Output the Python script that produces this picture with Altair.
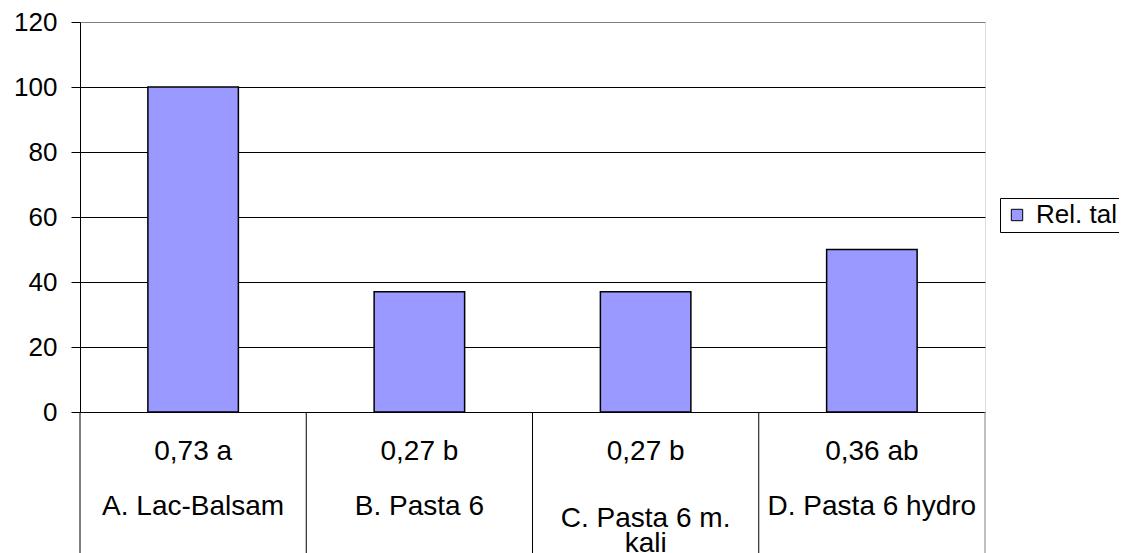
import altair as alt
import pandas as pd

categories = ["A. Lac-Balsam", "B. Pasta 6", "C. Pasta 6 m.\nkali", "D. Pasta 6 hydro"]
stat_labels = ["0,73 a", "0,27 b", "0,27 b", "0,36 ab"]
rel_tal = [100, 37, 37, 50]
series_name = "Rel. tal"
y_ticks = [0, 20, 40, 60, 80, 100, 120]

n = len(categories)
df = pd.DataFrame({
    "cat": categories,
    "stat": stat_labels,
    "value": rel_tal,
    "i": list(range(n)),
    "series": [series_name] * n,
})
sep = pd.DataFrame({"b": list(range(n + 1))})

FONT = "Liberation Sans"
FS = 26
CFS = 28
W, H = 905, 390
PAD = {"left": 72, "top": 14, "right": 134, "bottom": 141}
xscale = alt.Scale(domain=[0, n], nice=False, zero=False, padding=0)

bars = alt.Chart(df).transform_calculate(
    x0="datum.i + 0.3", x1="datum.i + 0.7"
).mark_bar(stroke="black", strokeWidth=1.5, orient="vertical").encode(
    x=alt.X("x0:Q", scale=xscale, axis=None),
    x2="x1:Q",
    y=alt.Y(
        "value:Q",
        scale=alt.Scale(domain=[0, 120], nice=False, padding=0),
        axis=alt.Axis(
            values=y_ticks,
            title=None,
            labelFont=FONT,
            labelFontSize=FS,
            labelColor="black",
            labelPadding=14,
            tickColor="black",
            tickSize=9,
            domainColor="black",
            grid=True,
            gridColor={"condition": {"test": "datum.value >= 120", "value": "#808080"}, "value": "black"},
            gridOpacity=1,
        ),
    ),
    y2=alt.datum(0),
    color=alt.Color(
        "series:N",
        scale=alt.Scale(range=["#9999FF"]),
        legend=alt.Legend(
            title=None,
            orient="none",
            legendX=920,
            legendY=176,
            strokeColor="black",
            fillColor="white",
            padding=4,
            symbolType="square",
            symbolSize=130,
            symbolStrokeColor="black",
            symbolStrokeWidth=1,
            symbolOpacity=1,
            labelFont=FONT,
            labelFontSize=FS,
            labelColor="black",
            labelOffset=6,
            labelLimit=300,
        ),
    ),
)

seps = alt.Chart(sep).mark_rule(strokeWidth=1).encode(
    x=alt.X("b:Q", scale=xscale, axis=None),
    y=alt.value(H),
    y2=alt.value(H + PAD["bottom"]),
    color=alt.condition(f"datum.b == {n}", alt.value("#808080"), alt.value("black")),
)

row1 = alt.Chart(df).transform_calculate(xc="datum.i + 0.5").mark_text(
    font=FONT, fontSize=CFS, baseline="middle", align="center", color="black"
).encode(
    x=alt.X("xc:Q", scale=xscale, axis=None),
    y=alt.value(430),
    text="stat:N",
)

row2_single = alt.Chart(df).transform_filter(
    "indexof(datum.cat, '\\n') < 0"
).transform_calculate(xc="datum.i + 0.5").mark_text(
    font=FONT, fontSize=CFS, baseline="middle", align="center", color="black"
).encode(
    x=alt.X("xc:Q", scale=xscale, axis=None),
    y=alt.value(485),
    text="cat:N",
)

row2_multi = alt.Chart(df).transform_filter(
    "indexof(datum.cat, '\\n') >= 0"
).transform_calculate(xc="datum.i + 0.5").mark_text(
    font=FONT, fontSize=CFS, baseline="middle", align="center", color="black",
    lineBreak="\n", lineHeight=25,
).encode(
    x=alt.X("xc:Q", scale=xscale, axis=None),
    y=alt.value(497),
    text="cat:N",
)

chart = alt.layer(bars, seps, row1, row2_single, row2_multi).properties(
    width=W,
    height=H,
    padding=PAD,
    autosize=alt.AutoSizeParams(type="none"),
).configure_view(stroke="#808080", strokeWidth=1).configure(background="white")

chart.save("out.html", embed_options={"renderer": "svg", "actions": False})
